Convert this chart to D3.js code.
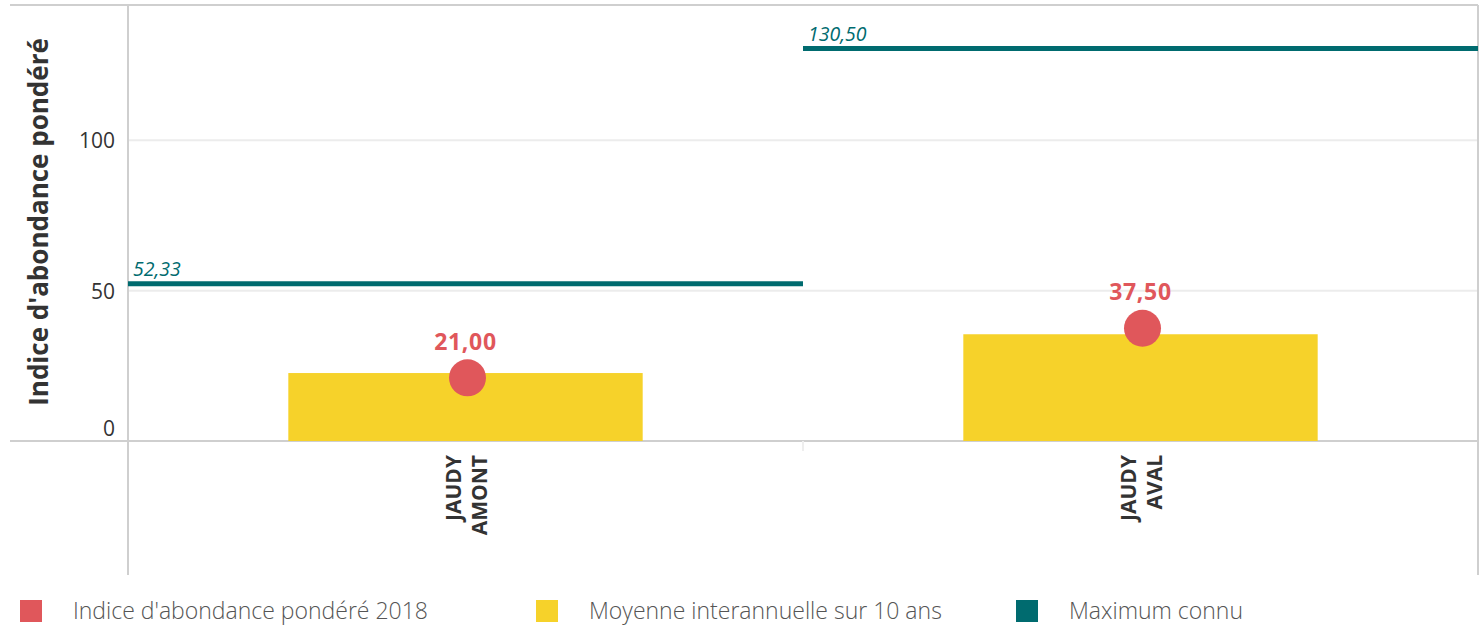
<!DOCTYPE html>
<html>
<head>
<meta charset="utf-8">
<style>
	body { margin: 0; background: #fff; font-family: "Open Sans", sans-serif; }
	svg { display: block; }
	.grid line { stroke: #ececec; stroke-width: 2px; }
	.frame { stroke: #cfcfcf; stroke-width: 2px; fill: none; }
	.ytick { font-size: 21px; fill: #333; }
	.ytitle { font-size: 26px; font-weight: bold; fill: #333; }
	.xlab { font-size: 21px; font-weight: bold; fill: #333; }
	.maxlab { font-size: 19.5px; font-style: italic; fill: #006b6f; }
	.dotlab { font-size: 23px; font-weight: bold; fill: #e0575b; letter-spacing: 0.7px; }
	.legend text { font-size: 23px; fill: #555; font-weight: 300; }
</style>
</head>
<body>
<script src="https://d3js.org/d3.v7.min.js"></script>
<script>
	var stations = ["JAUDY AMONT", "JAUDY AVAL"];
	var indice2018 = [21.00, 37.50];
	var moyenne10ans = [22.6, 35.5];
	var maximumConnu = [52.33, 130.50];
	var yTicks = [0, 50, 100];
	var legendLabels = ["Indice d'abondance pondéré 2018", "Moyenne interannuelle sur 10 ans", "Maximum connu"];
	var colors = ["#e0575b", "#f6d22a", "#006b6f"];

	var W = 1484, H = 626;
	var plotLeft = 128, plotRight = 1478, plotTop = 5, plotBase = 441;
	var fmt = function(v) { return d3.format(".2f")(v).replace(".", ","); };

	var svg = d3.select("body").append("svg")
		.attr("width", W)
		.attr("height", H);

	var x = d3.scaleBand()
		.domain(stations)
		.range([plotLeft, plotRight]);
	var y = d3.scaleLinear()
		.domain([0, 145])
		.range([plotBase, plotTop]);

	// gridlines
	svg.append("g")
		.attr("class", "grid")
		.selectAll("line")
		.data(yTicks.filter(function(d) { return d > 0; }))
		.enter().append("line")
			.attr("x1", plotLeft)
			.attr("x2", plotRight)
			.attr("y1", function(d) { return y(d); })
			.attr("y2", function(d) { return y(d); });

	// y tick labels
	svg.append("g")
		.selectAll("text")
		.data(yTicks)
		.enter().append("text")
			.attr("class", "ytick")
			.attr("x", 115)
			.attr("y", function(d) { return y(d) + (d == 0 ? -5 : 8); })
			.attr("text-anchor", "end")
			.text(function(d) { return d; });

	svg.append("text")
		.attr("class", "ytitle")
		.attr("transform", "translate(48,222) rotate(-90)")
		.attr("text-anchor", "middle")
		.text("Indice d'abondance pondéré");

	// frame
	svg.append("line").attr("class", "frame")
		.attr("x1", 10).attr("x2", plotRight).attr("y1", plotTop).attr("y2", plotTop);
	svg.append("line").attr("class", "frame")
		.attr("x1", 10).attr("x2", plotRight).attr("y1", plotBase).attr("y2", plotBase);
	svg.append("line").attr("class", "frame")
		.attr("x1", plotLeft).attr("x2", plotLeft).attr("y1", plotTop).attr("y2", 575);
	svg.append("line").attr("class", "frame")
		.attr("x1", plotRight).attr("x2", plotRight).attr("y1", plotTop).attr("y2", 575);
	svg.append("line")
		.attr("x1", x(stations[1])).attr("x2", x(stations[1]))
		.attr("y1", plotBase).attr("y2", plotBase + 10)
		.attr("stroke", "#eee").attr("stroke-width", 2);

	var barW = x.bandwidth() * 0.525;

	// moyenne bars
	svg.append("g")
		.selectAll("rect")
		.data(stations)
		.enter().append("rect")
			.attr("x", function(d) { return x(d) + (x.bandwidth() - barW) / 2; })
			.attr("y", function(d, i) { return y(moyenne10ans[i]); })
			.attr("width", barW)
			.attr("height", function(d, i) { return plotBase - y(moyenne10ans[i]); })
			.attr("fill", colors[1]);

	// maximum lines
	var maxG = svg.append("g");
	maxG.selectAll("line")
		.data(stations)
		.enter().append("line")
			.attr("x1", function(d) { return x(d); })
			.attr("x2", function(d) { return x(d) + x.bandwidth(); })
			.attr("y1", function(d, i) { return y(maximumConnu[i]); })
			.attr("y2", function(d, i) { return y(maximumConnu[i]); })
			.attr("stroke", colors[2])
			.attr("stroke-width", 5);
	maxG.selectAll("text")
		.data(stations)
		.enter().append("text")
			.attr("class", "maxlab")
			.attr("x", function(d) { return x(d) + 5; })
			.attr("y", function(d, i) { return y(maximumConnu[i]) - 8; })
			.text(function(d, i) { return fmt(maximumConnu[i]); });

	// indice dots
	var dotG = svg.append("g");
	dotG.selectAll("circle")
		.data(stations)
		.enter().append("circle")
			.attr("cx", function(d) { return x(d) + x.bandwidth() / 2 + 2; })
			.attr("cy", function(d, i) { return y(indice2018[i]); })
			.attr("r", 18.5)
			.attr("fill", colors[0]);
	dotG.selectAll("text")
		.data(stations)
		.enter().append("text")
			.attr("class", "dotlab")
			.attr("x", function(d) { return x(d) + x.bandwidth() / 2; })
			.attr("y", function(d, i) { return y(indice2018[i]) - 28; })
			.attr("text-anchor", "middle")
			.text(function(d, i) { return fmt(indice2018[i]); });

	// x labels, two lines rotated
	var xl = svg.append("g")
		.selectAll("text")
		.data(stations)
		.enter().append("text")
			.attr("class", "xlab")
			.attr("transform", function(d) { return "translate(" + (x(d) + x.bandwidth() / 2 - 5) + ",455) rotate(-90)"; })
			.attr("text-anchor", "end");
	xl.selectAll("tspan")
		.data(function(d) { return d.split(" "); })
		.enter().append("tspan")
			.attr("x", 0)
			.attr("dy", function(d, i) { return i == 0 ? 0 : 26; })
			.text(function(d) { return d; });

	// legend
	var legendX = [20, 536, 1016];
	var lg = svg.append("g")
		.attr("class", "legend")
		.selectAll("g")
		.data(legendLabels)
		.enter().append("g")
			.attr("transform", function(d, i) { return "translate(" + legendX[i] + ",600)"; });
	lg.append("rect")
		.attr("width", 22)
		.attr("height", 22)
		.attr("fill", function(d, i) { return colors[i]; });
	lg.append("text")
		.attr("x", 53)
		.attr("y", 19)
		.text(function(d) { return d; });
</script>
</body>
</html>
